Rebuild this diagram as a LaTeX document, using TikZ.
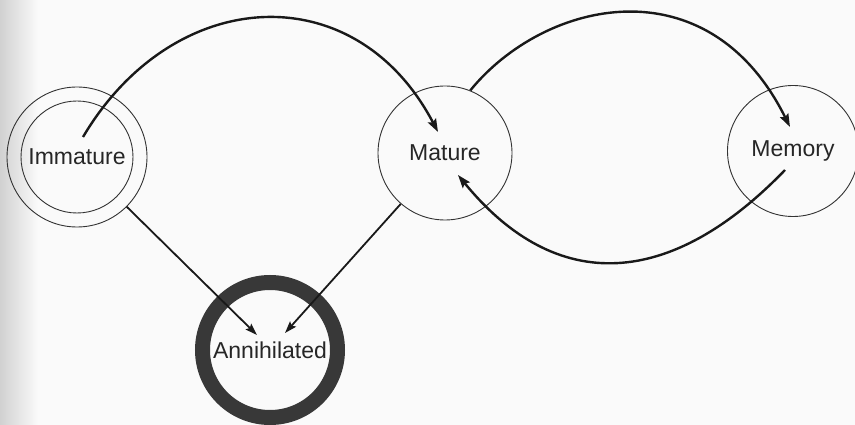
\documentclass[tikz,border=0pt]{standalone}
\usepackage{fontspec}
\setmainfont{Liberation Sans}
\usetikzlibrary{arrows.meta,calc}
\begin{document}
\begin{tikzpicture}[x=1pt,y=-1pt,
  state/.style={circle, draw=black!80, line width=0.9pt, inner sep=0pt,
    font=\fontsize{23}{26}\selectfont, text=black!85},
  ringline/.style={circle, draw=black!80, line width=0.9pt, inner sep=0pt},
  conn/.style={draw=black!90, line width=2.4pt, -{Stealth[length=13pt,width=9pt,inset=2pt]}},
  link/.style={draw=black!90, line width=1.8pt, -{Stealth[length=12pt,width=8pt,inset=2pt]}}
  ]
\useasboundingbox (0,0) rectangle (855,425);
\fill[black!2] (0,0) rectangle (855,425);
\shade[left color=black!18, right color=black!2] (0,0) rectangle (38,425);
% states
\node[state, minimum size=112pt] (imm) at (77,157) {Immature};
\node[ringline, minimum size=140pt] (immout) at (77,157) {};
\node[state, minimum size=134pt] (mat) at (445,153) {Mature};
\node[state, minimum size=131pt] (mem) at (793,151) {Memory};
\node[state, draw=black!78, line width=15pt, minimum size=135pt] (ann) at (270,350) {Annihilated};
% connector end points
\coordinate (s1) at ($(imm)+(6,-20)$);
\coordinate (e1) at ($(mat)+(-7,-21)$);
\coordinate (s2) at (mat.68);
\coordinate (e2) at ($(mem)+(-3,-24)$);
\coordinate (s3) at ($(mem)+(-8,19)$);
\coordinate (e3) at ($(mat)+(13,22)$);
\coordinate (a1) at ($(ann)+(-13,-15)$);
\coordinate (a2) at ($(ann)+(15,-17)$);
% connectors
\draw[conn] (s1) .. controls ($(s1)+(90,-152)$) and ($(e1)+(-83,-158)$) .. (e1);
\draw[conn] (s2) .. controls ($(s2)+(74,-91)$) and ($(e2)+(-82,-165)$) .. (e2);
\draw[conn] (s3) .. controls ($(s3)+(-114,118)$) and ($(e3)+(99,121)$) .. (e3);
\draw[link] (immout.-45) -- (a1);
\draw[link] (mat.-131) -- (a2);
\end{tikzpicture}
\end{document}
